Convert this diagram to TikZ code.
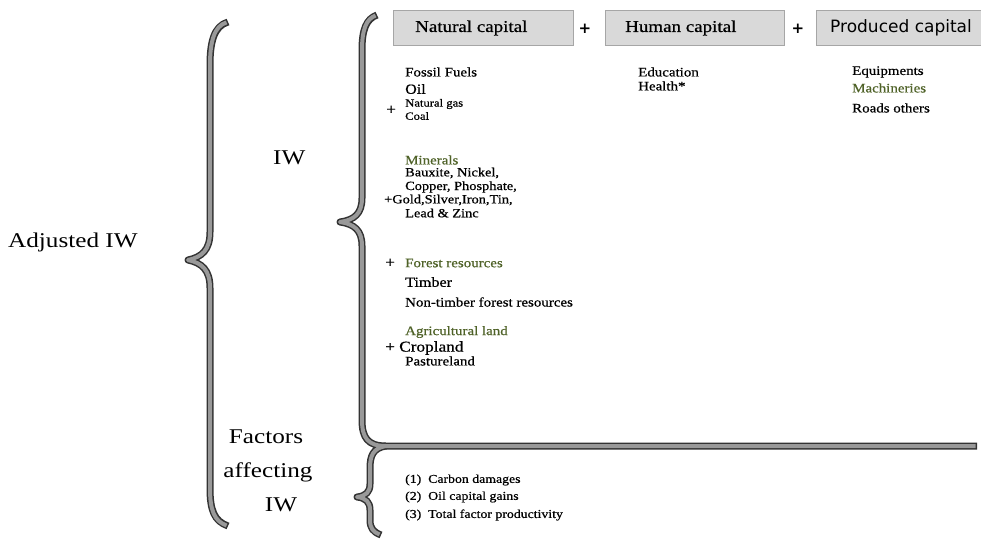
\documentclass[tikz,border=0pt]{standalone}
\usepackage{fontspec}
\newfontfamily\serw{Liberation Serif}[FakeStretch=1.2]
\newfontfamily\serb{Liberation Serif}[FakeStretch=1.15,FakeBold=0.7]
\newfontfamily\pcsans{DejaVu Sans}
\newcommand\setfs[1]{\fontsize{#1}{#1}\selectfont}
\definecolor{olivegrn}{HTML}{4F6228}
\definecolor{boxfill}{HTML}{D9D9D9}
\definecolor{boxline}{HTML}{A6A6A6}
\tikzset{
  lbl/.style={anchor=west, inner sep=0pt, font=\serb\setfs{13}},
  big/.style={inner sep=0pt, font=\serw\setfs{21}},
  grn/.style={text=olivegrn},
  capbox/.style={draw=boxline, fill=boxfill, minimum height=35pt, inner sep=0pt, anchor=north west},
  braceout/.style={draw=black!80, line width=7pt, line cap=butt, line join=round},
  bracein/.style={draw=gray!80, line width=4pt, line cap=butt, line join=round},
}
\def\bracA{(228,22) .. controls (214,26) and (210,42) .. (210,65) -- (210,232) .. controls (210,250) and (202,257) .. (188,260) .. controls (202,263) and (210,270) .. (210,288) -- (210,488) .. controls (210,510) and (214,521) .. (228,526)}
\def\bracB{(377,15) .. controls (366,19) and (362,30) .. (362,50) -- (362,198) .. controls (362,214) and (354,220) .. (340,222) .. controls (354,224) and (362,230) .. (362,246) -- (362,420) .. controls (362,438) and (368,446) .. (386,446) -- (977,446)}
\def\bracC{(386,446) .. controls (373,448) and (370,456) .. (370,468) -- (370,484) .. controls (370,492) and (366,496) .. (357,497) .. controls (366,498) and (370,502) .. (370,510) -- (370,520) .. controls (370,528) and (373,532) .. (381,535)}
\begin{document}
\begin{tikzpicture}[x=1pt,y=-1pt]
\useasboundingbox (0,0) rectangle (981,540);
% braces
\draw[braceout] \bracA;
\draw[braceout] \bracB;
\draw[braceout] \bracC;
\draw[bracein, shorten <=1.5pt, shorten >=1.5pt] \bracA;
\draw[bracein, shorten <=1.5pt, shorten >=1.5pt] \bracB;
\draw[bracein, shorten >=1.5pt] \bracC;
% big labels
\node[big, anchor=west] (adj) at (8,242) {Adjusted IW};
\node[big, anchor=west] (iw) at (273,158) {IW};
\node[big] (fac1) at (266,437) {Factors};
\node[big] (fac2) at (268,472) {affecting};
\node[big] (fac3) at (281,505) {IW};
% header boxes
\node[capbox, minimum width=180pt] (nat) at (393,10) {};
\node[capbox, minimum width=179pt] (hum) at (605,10) {};
\node[capbox, minimum width=175pt] (prod) at (816,10) {};
\node[anchor=west, inner sep=0pt, font=\serb\setfs{16.5}] (natt) at (415,28) {Natural capital};
\node[anchor=west, inner sep=0pt, font=\serb\setfs{16.5}] (humt) at (625,28) {Human capital};
\node[anchor=west, inner sep=0pt, font=\pcsans\setfs{17}] (prodt) at (830,28) {Produced capital};
\node[inner sep=0pt, font=\pcsans\bfseries\setfs{15}] (p1) at (585,29) {+};
\node[inner sep=0pt, font=\pcsans\bfseries\setfs{15}] (p2) at (798,29) {+};
% natural capital column
\node[lbl] (ff) at (405,72) {Fossil Fuels};
\node[lbl, font=\serb\setfs{14}] (oil) at (405,89) {Oil};
\node[lbl, font=\serb\setfs{11}] (ng) at (405,104) {Natural gas};
\node[lbl, font=\serb\setfs{11}] (coal) at (405,116) {Coal};
\node[lbl, font=\serb\setfs{15}] (pl1) at (386,110) {+};
\node[lbl, grn] (min) at (405,160) {Minerals};
\node[lbl, font=\serb\setfs{12.5}] (m1) at (405,173) {Bauxite, Nickel,};
\node[lbl, font=\serb\setfs{12.5}] (m2) at (405,187) {Copper, Phosphate,};
\node[lbl, font=\serb\setfs{12.5}] (m3) at (384,200) {+Gold,Silver,Iron,Tin,};
\node[lbl, font=\serb\setfs{12.5}] (m4) at (405,213) {Lead \& Zinc};
\node[lbl, font=\serb\setfs{15}] (pl3) at (385,263) {+};
\node[lbl, grn] (fr) at (405,263) {Forest resources};
\node[lbl, font=\serb\setfs{14}] (tim) at (405,282) {Timber};
\node[lbl] (ntf) at (405,302) {Non-timber forest resources};
\node[lbl, grn] (agl) at (405,332) {Agricultural land};
\node[lbl, font=\serb\setfs{15}] (crop) at (385,348) {+ Cropland};
\node[lbl] (past) at (405,361) {Pastureland};
% human capital column
\node[lbl] (edu) at (638,72) {Education};
\node[lbl] (hea) at (638,86) {Health*};
% produced capital column
\node[lbl] (eq) at (852,72) {Equipments};
\node[lbl, grn] (mach) at (852,88) {Machineries};
\node[lbl] (roads) at (852,108) {Roads others};
% factors
\node[lbl, font=\serb\setfs{12}] (f1) at (405,480) {(1)\ \ Carbon damages};
\node[lbl, font=\serb\setfs{12}] (f2) at (405,497) {(2)\ \ Oil capital gains};
\node[lbl, font=\serb\setfs{12}] (f3) at (405,515) {(3)\ \ Total factor productivity};
\end{tikzpicture}
\end{document}
